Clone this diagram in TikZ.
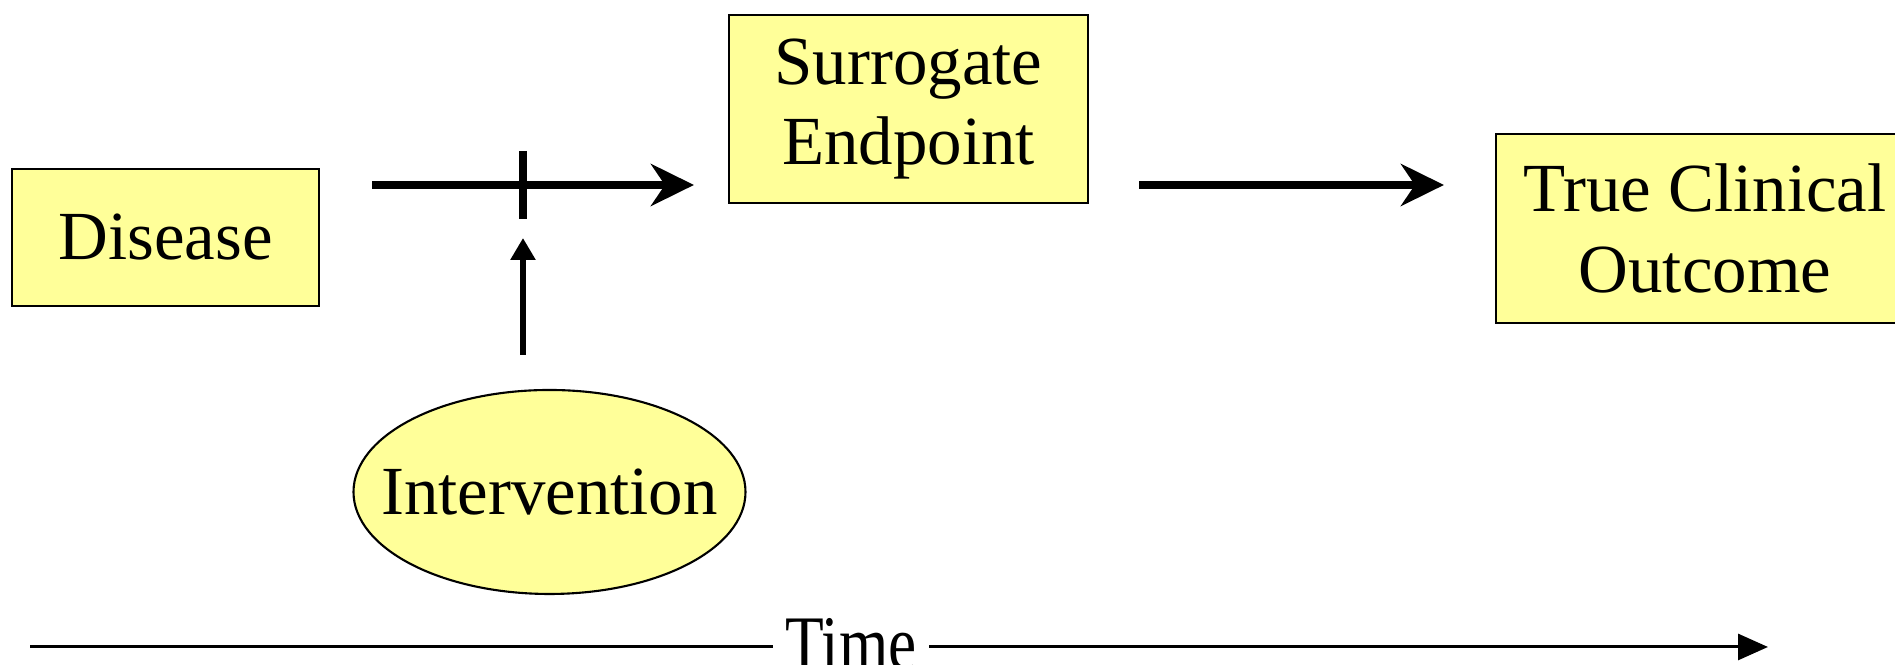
\documentclass[tikz,border=0pt]{standalone}
\usepackage{fontspec}
\setmainfont{Liberation Serif}
\usetikzlibrary{arrows.meta,shapes.geometric}

\definecolor{paleyellow}{RGB}{255,255,153}

\tikzset{
    stagebox/.style={draw, line width=0.6pt, fill=paleyellow, inner sep=0pt,
        align=center, font=\fontsize{19.6}{23}\selectfont},
    bigarrow/.style={line width=2.3pt, -{Stealth[length=4.3mm, width=4.2mm, inset=1.4mm]}},
    blockbar/.style={line width=2.3pt},
    pusharrow/.style={line width=1.7pt, -{Triangle[length=2.2mm, width=2.4mm]}},
    timeline/.style={line width=0.85pt}
}

\begin{document}
\begin{tikzpicture}
    \useasboundingbox (0,0) rectangle (18.95,6.65);

    % stages
    \node[stagebox, minimum width=3.07cm, minimum height=1.37cm] (disease) at (1.655,4.275) {Disease};
    \node[stagebox, minimum width=3.59cm, minimum height=1.88cm] (surrogate) at (9.085,5.56) {Surrogate\\Endpoint};
    \node[stagebox, minimum width=4.18cm, minimum height=1.89cm] (outcome) at (17.05,4.365) {True Clinical\\Outcome};
    \node[stagebox, ellipse, inner xsep=-3mm, minimum width=3.92cm, minimum height=2.04cm] (intervention) at (5.495,1.73) {Intervention};

    % causal path
    \coordinate (block) at (5.23,4.80);
    \draw[bigarrow, shorten <=5.2mm, shorten >=3.4mm] (block -| disease.east) -- (block -| surrogate.west);
    \draw[bigarrow, shorten <=5.0mm, shorten >=5.1mm] (block -| surrogate.east) -- (block -| outcome.west);
    \draw[blockbar] ([yshift=3.4mm]block) -- ([yshift=-3.4mm]block);
    \draw[pusharrow, shorten <=3.4mm, shorten >=5.3mm] (block |- intervention.north) -- (block);

    % time axis
    \node[anchor=base, inner xsep=1.2mm, inner ysep=0.6mm, font=\fontsize{19.6}{23}\selectfont] (time) at (8.51,-0.05) {\scalebox{0.92}[1.12]{Time}};
    \coordinate (tstart) at (0.30,0.18);
    \coordinate (tend) at (17.68,0.18);
    \draw[timeline] (tstart) -- (tstart -| time.west);
    \draw[timeline, -{Triangle[length=3mm, width=2.6mm]}] (tstart -| time.east) -- (tend);
\end{tikzpicture}
\end{document}
